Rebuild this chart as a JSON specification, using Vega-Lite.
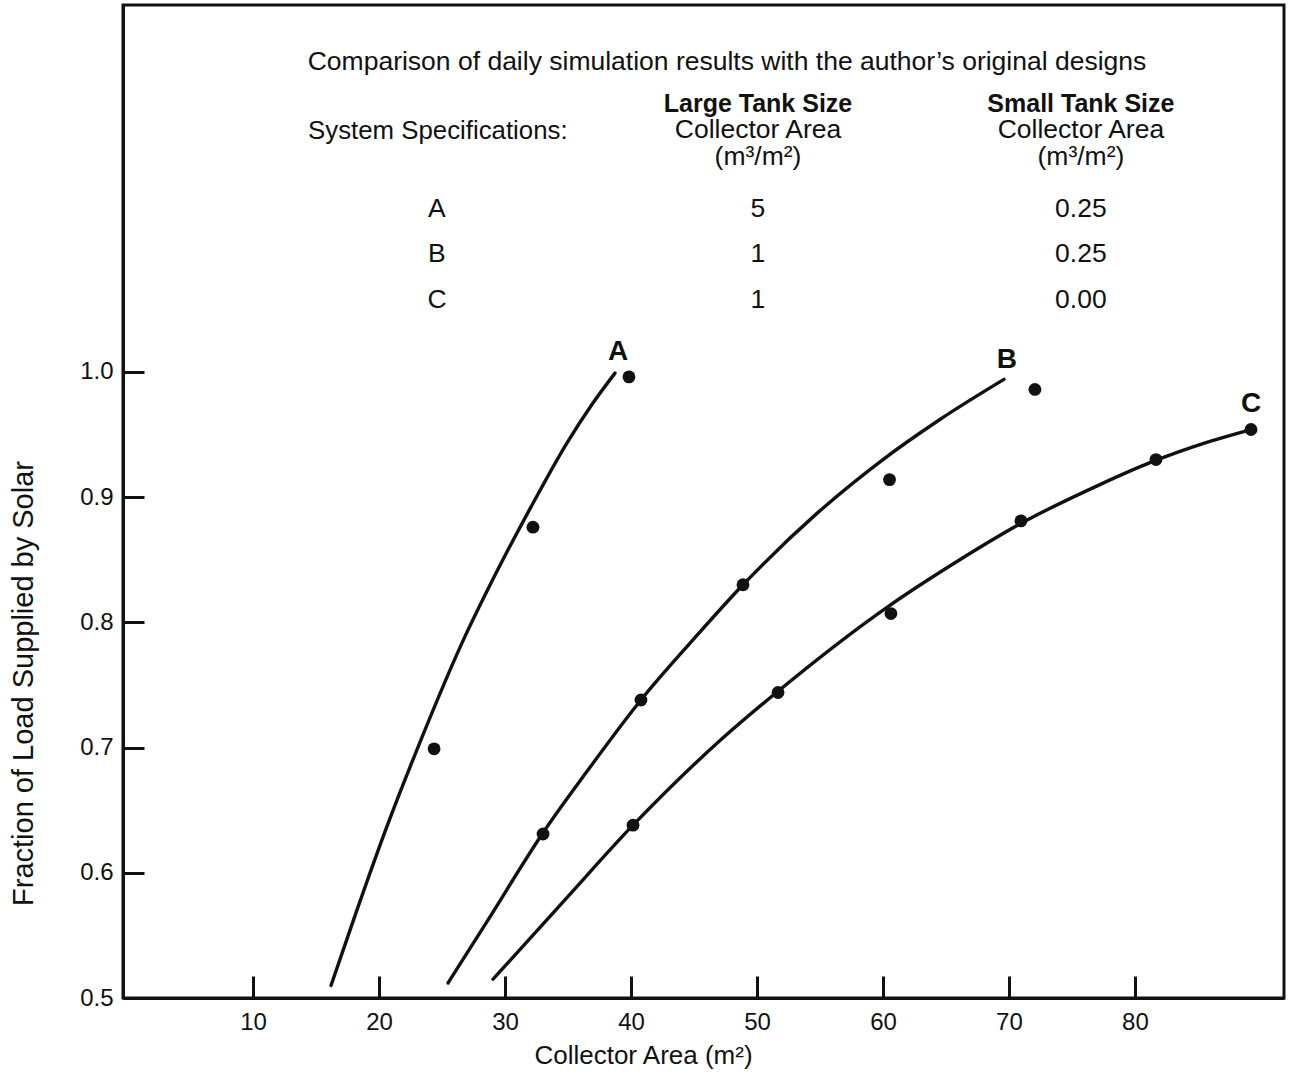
{
  "$schema": "https://vega.github.io/schema/vega-lite/v6.json",
  "width": 1161,
  "height": 993,
  "autosize": {"type": "none"},
  "padding": {"left": 123, "top": 5, "right": 12, "bottom": 81},
  "background": "white",
  "config": {
    "view": {"stroke": "#111", "strokeWidth": 3},
    "font": "Liberation Sans",
    "text": {"font": "Liberation Sans", "color": "#111"}
  },
  "datasets": {
    "curves": [
      {"system": "A", "area": 16.19, "fraction": 0.510},
      {"system": "A", "area": 18.0, "fraction": 0.563},
      {"system": "A", "area": 20.63, "fraction": 0.637},
      {"system": "A", "area": 23.0, "fraction": 0.698},
      {"system": "A", "area": 26.7, "fraction": 0.786},
      {"system": "A", "area": 29.07, "fraction": 0.835},
      {"system": "A", "area": 32.0, "fraction": 0.891},
      {"system": "A", "area": 34.9, "fraction": 0.943},
      {"system": "A", "area": 36.9, "fraction": 0.974},
      {"system": "A", "area": 38.73, "fraction": 0.999},
      {"system": "B", "area": 25.48, "fraction": 0.512},
      {"system": "B", "area": 28.57, "fraction": 0.561},
      {"system": "B", "area": 33.02, "fraction": 0.632},
      {"system": "B", "area": 36.51, "fraction": 0.681},
      {"system": "B", "area": 40.79, "fraction": 0.738},
      {"system": "B", "area": 44.92, "fraction": 0.786},
      {"system": "B", "area": 48.89, "fraction": 0.830},
      {"system": "B", "area": 54.76, "fraction": 0.887},
      {"system": "B", "area": 60.0, "fraction": 0.930},
      {"system": "B", "area": 64.52, "fraction": 0.962},
      {"system": "B", "area": 69.6, "fraction": 0.994},
      {"system": "C", "area": 29.05, "fraction": 0.515},
      {"system": "C", "area": 34.63, "fraction": 0.577},
      {"system": "C", "area": 40.16, "fraction": 0.638},
      {"system": "C", "area": 47.22, "fraction": 0.707},
      {"system": "C", "area": 51.67, "fraction": 0.745},
      {"system": "C", "area": 60.32, "fraction": 0.812},
      {"system": "C", "area": 66.1, "fraction": 0.850},
      {"system": "C", "area": 70.95, "fraction": 0.879},
      {"system": "C", "area": 77.22, "fraction": 0.910},
      {"system": "C", "area": 81.19, "fraction": 0.9275},
      {"system": "C", "area": 85.95, "fraction": 0.9445},
      {"system": "C", "area": 89.21, "fraction": 0.954}
    ],
    "points": [
      {"system": "A", "area": 24.37, "fraction": 0.699},
      {"system": "A", "area": 32.22, "fraction": 0.876},
      {"system": "A", "area": 39.84, "fraction": 0.996},
      {"system": "B", "area": 33.02, "fraction": 0.631},
      {"system": "B", "area": 40.79, "fraction": 0.738},
      {"system": "B", "area": 48.89, "fraction": 0.830},
      {"system": "B", "area": 60.52, "fraction": 0.914},
      {"system": "B", "area": 72.06, "fraction": 0.986},
      {"system": "C", "area": 40.16, "fraction": 0.638},
      {"system": "C", "area": 51.67, "fraction": 0.744},
      {"system": "C", "area": 60.63, "fraction": 0.807},
      {"system": "C", "area": 70.95, "fraction": 0.881},
      {"system": "C", "area": 81.67, "fraction": 0.930},
      {"system": "C", "area": 89.21, "fraction": 0.954}
    ],
    "curveLabels": [
      {"label": "A", "area": 38.97, "fraction": 1.016},
      {"label": "B", "area": 69.84, "fraction": 1.0096},
      {"label": "C", "area": 89.21, "fraction": 0.9744}
    ],
    "tableText": [
      {"label": "Comparison of daily simulation results with the author’s original designs", "area": 47.62, "fraction": 1.2476},
      {"label": "Collector Area", "area": 50.08, "fraction": 1.1933},
      {"label": "(m³/m²)", "area": 50.08, "fraction": 1.1717},
      {"label": "Collector Area", "area": 75.71, "fraction": 1.1933},
      {"label": "(m³/m²)", "area": 75.71, "fraction": 1.1717},
      {"label": "A", "area": 24.6, "fraction": 1.1302},
      {"label": "5", "area": 50.08, "fraction": 1.1302},
      {"label": "0.25", "area": 75.71, "fraction": 1.1302},
      {"label": "B", "area": 24.6, "fraction": 1.0942},
      {"label": "1", "area": 50.08, "fraction": 1.0942},
      {"label": "0.25", "area": 75.71, "fraction": 1.0942},
      {"label": "C", "area": 24.6, "fraction": 1.0575},
      {"label": "1", "area": 50.08, "fraction": 1.0575},
      {"label": "0.00", "area": 75.71, "fraction": 1.0575}
    ],
    "tableHeads": [
      {"label": "Large Tank Size", "area": 50.08, "fraction": 1.2141},
      {"label": "Small Tank Size", "area": 75.71, "fraction": 1.2141}
    ],
    "tableSpec": [
      {"label": "System Specifications:", "area": 14.37, "fraction": 1.1925}
    ]
  },
  "layer": [
    {
      "data": {"name": "curves"},
      "mark": {"type": "line", "interpolate": "monotone", "color": "#111", "strokeWidth": 3.4, "strokeCap": "round"},
      "encoding": {
        "x": {
          "field": "area", "type": "quantitative",
          "scale": {"domain": [-0.32, 91.83], "nice": false, "zero": false},
          "axis": {
            "title": "Collector Area (m²)",
            "values": [10, 20, 30, 40, 50, 60, 70, 80],
            "format": "d",
            "grid": false,
            "tickSize": -22, "tickWidth": 3, "tickColor": "#111",
            "domainColor": "#111", "domainWidth": 3,
            "labelFont": "Liberation Sans", "labelFontSize": 24, "labelColor": "#111",
            "labelPadding": 34, "labelFlush": false, "labelOverlap": false,
            "titleFont": "Liberation Sans", "titleFontSize": 26, "titleFontWeight": "normal", "titleColor": "#111",
            "titleX": 520, "titleY": 65, "titleAlign": "center", "titleBaseline": "alphabetic"
          }
        },
        "y": {
          "field": "fraction", "type": "quantitative",
          "scale": {"domain": [0.5, 1.293], "nice": false, "zero": false},
          "axis": {
            "title": "Fraction of Load Supplied by Solar",
            "values": [0.5, 0.6, 0.7, 0.8, 0.9, 1.0],
            "format": ".1f",
            "grid": false,
            "tickSize": -21, "tickWidth": 3, "tickColor": "#111",
            "domainColor": "#111", "domainWidth": 3,
            "labelFont": "Liberation Sans", "labelFontSize": 24, "labelColor": "#111",
            "labelPadding": 31, "labelFlush": false, "labelOverlap": false,
            "titleFont": "Liberation Sans", "titleFontSize": 29, "titleFontWeight": "normal", "titleColor": "#111",
            "titleX": -91, "titleY": 678, "titleAngle": 270, "titleAlign": "center", "titleBaseline": "alphabetic"
          }
        },
        "detail": {"field": "system", "type": "nominal"},
        "order": {"field": "area", "type": "quantitative"}
      }
    },
    {
      "data": {"name": "points"},
      "mark": {"type": "circle", "size": 165, "color": "#111", "opacity": 1},
      "encoding": {
        "x": {"field": "area", "type": "quantitative"},
        "y": {"field": "fraction", "type": "quantitative"}
      }
    },
    {
      "data": {"name": "curveLabels"},
      "mark": {"type": "text", "fontSize": 28, "fontWeight": "bold", "align": "center", "baseline": "middle", "color": "#111"},
      "encoding": {
        "x": {"field": "area", "type": "quantitative"},
        "y": {"field": "fraction", "type": "quantitative"},
        "text": {"field": "label"}
      }
    },
    {
      "data": {"name": "tableText"},
      "mark": {"type": "text", "fontSize": 26.5, "align": "center", "baseline": "middle", "color": "#111"},
      "encoding": {
        "x": {"field": "area", "type": "quantitative"},
        "y": {"field": "fraction", "type": "quantitative"},
        "text": {"field": "label"}
      }
    },
    {
      "data": {"name": "tableHeads"},
      "mark": {"type": "text", "fontSize": 25, "fontWeight": "bold", "align": "center", "baseline": "middle", "color": "#111"},
      "encoding": {
        "x": {"field": "area", "type": "quantitative"},
        "y": {"field": "fraction", "type": "quantitative"},
        "text": {"field": "label"}
      }
    },
    {
      "data": {"name": "tableSpec"},
      "mark": {"type": "text", "fontSize": 25.8, "align": "left", "baseline": "middle", "color": "#111"},
      "encoding": {
        "x": {"field": "area", "type": "quantitative"},
        "y": {"field": "fraction", "type": "quantitative"},
        "text": {"field": "label"}
      }
    }
  ]
}
